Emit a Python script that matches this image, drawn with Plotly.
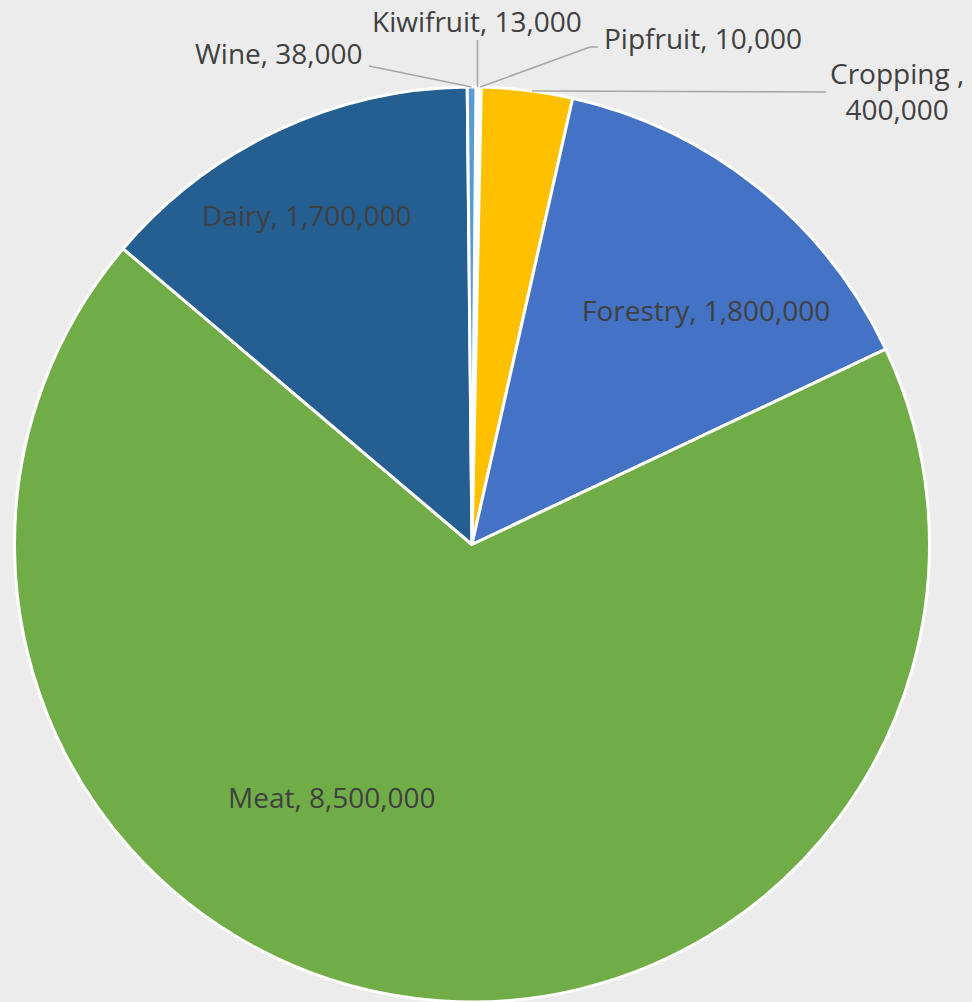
import math
import plotly.graph_objects as go

categories = ["Kiwifruit", "Pipfruit", "Cropping", "Forestry", "Meat", "Dairy", "Wine"]
values = [13000, 10000, 400000, 1800000, 8500000, 1700000, 38000]
colors = ["#ED7D31", "#A5A5A5", "#FFC000", "#4472C4", "#70AD47", "#255E91", "#5B9BD5"]

W, H = 972, 1002
CX, CY, R = 472, 545, 458

def px(x, y):
    return x / W, 1 - y / H

fig = go.Figure(go.Pie(
    labels=categories,
    values=values,
    sort=False,
    direction="clockwise",
    rotation=0.5,
    marker=dict(colors=colors, line=dict(color="white", width=3)),
    textinfo="none",
    hoverinfo="label+value",
    showlegend=False,
    domain=dict(x=[(CX - R) / W, (CX + R) / W], y=[0, (H - CY + R) / H]),
))

# slice angles on the rim (computed from data)
total = sum(values)
cum = 0
anchors = {}
for c, v in zip(categories, values):
    a0 = cum / total * 360 + 0.5
    cum += v
    a1 = cum / total * 360 + 0.5
    anchors[c] = (a0, a1)

def rim(angle_deg):
    a = math.radians(angle_deg)
    return CX + R * math.sin(a), CY - R * math.cos(a)

font = dict(family="Open Sans, Noto Sans, sans-serif", size=28, color="#404040")
annotations = []
shapes = []

def add_text(text, x, y, xanchor="center"):
    xx, yy = px(x, y)
    annotations.append(dict(text=text, x=xx, y=yy, xref="paper", yref="paper",
                            showarrow=False, xanchor=xanchor, yanchor="middle",
                            font=font, align="center"))

def add_line(points):
    for (x0, y0), (x1, y1) in zip(points[:-1], points[1:]):
        a0 = px(x0, y0)
        a1 = px(x1, y1)
        shapes.append(dict(type="line", xref="paper", yref="paper",
                           x0=a0[0], y0=a0[1], x1=a1[0], y1=a1[1],
                           line=dict(color="#A6A6A6", width=1.5)))

# inside labels
add_text(f"Dairy, {values[5]:,}", 307, 215)
add_text(f"Forestry, {values[3]:,}", 706, 310)
add_text(f"Meat, {values[4]:,}", 332, 797)

# outside labels with leaders
wa = sum(anchors["Wine"]) / 2
add_text(f"Wine, {values[6]:,}", 365, 53, xanchor="right")
add_line([(369, 66), rim(wa)])

ka = sum(anchors["Kiwifruit"]) / 2
kx, ky = rim(ka)
add_text(f"Kiwifruit, {values[0]:,}", 477, 21)
add_line([(kx, 40), (kx, ky)])

pa = sum(anchors["Pipfruit"]) / 2
add_text(f"Pipfruit, {values[1]:,}", 602, 38, xanchor="left")
add_line([(598, 47), (590, 47), rim(pa)])

ca = anchors["Cropping"][0] + (anchors["Cropping"][1] - anchors["Cropping"][0]) * 0.55
cx_, cy_ = rim(ca)
add_text(f"Cropping ,<br>{values[2]:,}", 897, 91)
add_line([(cx_, 91), (826, 92)])

fig.update_layout(
    width=W, height=H,
    margin=dict(l=0, r=0, t=0, b=0),
    paper_bgcolor="#ECECEC",
    plot_bgcolor="#ECECEC",
    annotations=annotations,
    shapes=shapes,
)

fig.write_html("out.html")
